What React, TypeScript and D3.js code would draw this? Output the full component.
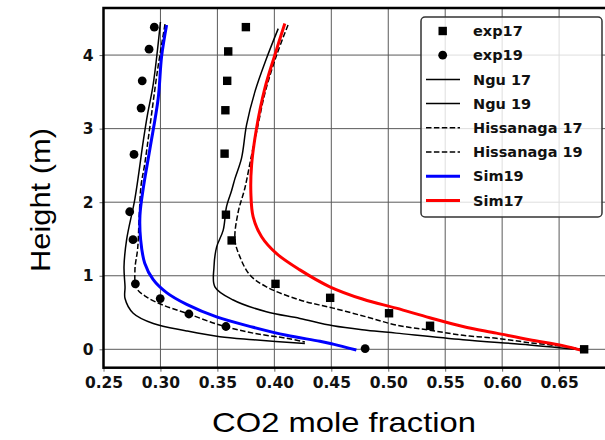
import React, { useEffect, useRef } from 'react';
import * as d3 from 'd3';

type Pt = [number, number];

const xTicks = [0.25, 0.3, 0.35, 0.4, 0.45, 0.5, 0.55, 0.6, 0.65];
const yTicks = [0, 1, 2, 3, 4];

// measured points (CO2 mole fraction, height m)
const exp17: Pt[] = [
  [0.375, 4.38], [0.3595, 4.05], [0.3586, 3.65], [0.357, 3.25], [0.3563, 2.66], [0.3575, 1.83],
  [0.3625, 1.48], [0.401, 0.89], [0.449, 0.7], [0.5007, 0.49], [0.5367, 0.32], [0.672, 0.0],
];
const exp19: Pt[] = [
  [0.2946, 4.38], [0.29, 4.08], [0.284, 3.65], [0.283, 3.28], [0.2768, 2.65], [0.273, 1.87],
  [0.2759, 1.49], [0.278, 0.89], [0.2998, 0.69], [0.325, 0.48], [0.3575, 0.31], [0.4797, 0.01],
];

const ngu19: Pt[] = [
  [0.3, 4.45], [0.2937, 3.61], [0.2885, 3.18], [0.285, 2.84], [0.2776, 2.05], [0.2703, 1.49],
  [0.268, 1.12], [0.2689, 0.85], [0.2689, 0.69], [0.2761, 0.49], [0.2937, 0.35], [0.323, 0.25],
  [0.3522, 0.17], [0.3814, 0.13], [0.4268, 0.08],
];
const hiss19: Pt[] = [
  [0.304, 4.42], [0.2975, 3.8], [0.2905, 3.0], [0.286, 2.5], [0.283, 2.23], [0.2814, 1.82],
  [0.28, 1.37], [0.2776, 1.08], [0.2791, 0.83], [0.2879, 0.71], [0.3025, 0.6], [0.323, 0.49],
  [0.3522, 0.33], [0.3814, 0.22], [0.4107, 0.15], [0.4268, 0.1],
];
const sim19: Pt[] = [
  [0.3054, 4.41], [0.301, 3.98], [0.298, 3.41], [0.2908, 2.73], [0.2849, 2.19], [0.282, 1.82],
  [0.2826, 1.49], [0.2862, 1.17], [0.2935, 0.95], [0.3054, 0.77], [0.323, 0.61], [0.3493, 0.44],
  [0.3814, 0.3], [0.4107, 0.19], [0.44, 0.11], [0.4516, 0.07], [0.472, -0.01],
];

const ngu17: Pt[] = [
  [0.4034, 4.36], [0.393, 3.95], [0.3829, 3.5], [0.3756, 3.05], [0.3712, 2.6], [0.3654, 2.32],
  [0.3625, 2.16], [0.358, 1.94], [0.3551, 1.62], [0.3493, 1.39], [0.347, 1.12], [0.3478, 0.85],
  [0.3639, 0.67], [0.393, 0.51], [0.4224, 0.42], [0.4516, 0.32], [0.481, 0.26], [0.507, 0.22],
  [0.5656, 0.13], [0.624, 0.06], [0.671, -0.01],
];
const hiss17: Pt[] = [
  [0.412, 4.41], [0.402, 4.0], [0.392, 3.5], [0.385, 3.0], [0.38, 2.64], [0.3741, 2.19],
  [0.3683, 1.87], [0.3654, 1.49], [0.3697, 1.26], [0.3785, 1.01], [0.393, 0.85], [0.4224, 0.67],
  [0.4516, 0.56], [0.481, 0.44], [0.507, 0.33], [0.5364, 0.26], [0.5656, 0.19], [0.5949, 0.15],
  [0.624, 0.09], [0.6533, 0.04], [0.671, 0.0],
];
const sim17: Pt[] = [
  [0.4092, 4.43], [0.4004, 4.0], [0.3917, 3.55], [0.3843, 3.0], [0.38, 2.5], [0.3794, 2.12],
  [0.3814, 1.8], [0.3888, 1.53], [0.402, 1.3], [0.4224, 1.08], [0.4487, 0.85], [0.478, 0.68],
  [0.507, 0.56], [0.5364, 0.43], [0.5656, 0.31], [0.5949, 0.22], [0.624, 0.13], [0.6533, 0.05],
  [0.671, -0.02],
];

const legendLabels = ['exp17', 'exp19', 'Ngu 17', 'Ngu 19', 'Hissanaga 17', 'Hissanaga 19', 'Sim19', 'Sim17'];

export default function App() {
  const svgRef = useRef<SVGSVGElement>(null);

  useEffect(() => {
    const svg = d3.select(svgRef.current);
    svg.selectAll('*').remove();

    const left = 103.5, right = 620, top = 8, bottom = 367.7;
    const x = d3.scaleLinear().domain([0.25, 0.25 + (right - left) / 1139]).range([left, right]);
    const y = d3.scaleLinear().domain([-0.25, 4.64]).range([bottom, top]);

    // grid
    svg.append('g').selectAll('line').data(xTicks).join('line')
      .attr('x1', d => x(d)).attr('x2', d => x(d)).attr('y1', top).attr('y2', bottom)
      .attr('stroke', '#5a5a5a').attr('stroke-width', 1);
    svg.append('g').selectAll('line').data(yTicks).join('line')
      .attr('x1', left).attr('x2', right).attr('y1', d => y(d)).attr('y2', d => y(d))
      .attr('stroke', '#5a5a5a').attr('stroke-width', 1);

    // axes
    const xAxis = svg.append('g').attr('transform', `translate(0,${bottom})`)
      .call(d3.axisBottom(x).tickValues(xTicks).tickFormat(d3.format('.2f')).tickSize(4).tickPadding(5));
    const yAxis = svg.append('g').attr('transform', `translate(${left},0)`)
      .call(d3.axisLeft(y).tickValues(yTicks).tickFormat(d3.format('d')).tickSize(4).tickPadding(6));
    [xAxis, yAxis].forEach(a => {
      a.select('.domain').remove();
      a.selectAll('.tick line').attr('stroke', '#666');
      a.selectAll('.tick text')
        .attr('fill', '#111')
        .style('font-family', '"DejaVu Sans", sans-serif')
        .style('font-weight', 'bold')
        .style('font-size', '15.5px');
    });

    const line = d3.line<Pt>().x(d => x(d[0])).y(d => y(d[1])).curve(d3.curveCatmullRom.alpha(0.5));

    const plot = svg.append('g');
    const series: { data: Pt[]; color: string; w: number; dash?: string }[] = [
      { data: ngu19, color: '#000', w: 1.5 },
      { data: ngu17, color: '#000', w: 1.5 },
      { data: hiss19, color: '#000', w: 1.5, dash: '5.5,2.4' },
      { data: hiss17, color: '#000', w: 1.5, dash: '5.5,2.4' },
      { data: sim19, color: '#0000ff', w: 3 },
      { data: sim17, color: '#ff0000', w: 3 },
    ];
    series.forEach(s => {
      plot.append('path').datum(s.data)
        .attr('d', line).attr('fill', 'none')
        .attr('stroke', s.color).attr('stroke-width', s.w)
        .attr('stroke-dasharray', s.dash ?? null);
    });

    plot.append('g').selectAll('rect').data(exp17).join('rect')
      .attr('x', d => x(d[0]) - 4.2).attr('y', d => y(d[1]) - 4.2)
      .attr('width', 8.4).attr('height', 8.4).attr('fill', '#000');
    plot.append('g').selectAll('circle').data(exp19).join('circle')
      .attr('cx', d => x(d[0])).attr('cy', d => y(d[1])).attr('r', 4.4).attr('fill', '#000');

    // spines
    svg.append('rect').attr('x', left).attr('y', top).attr('width', right - left).attr('height', bottom - top)
      .attr('fill', 'none').attr('stroke', '#000').attr('stroke-width', 2.5);

    // legend
    const lg = svg.append('g');
    lg.append('rect').attr('x', 421).attr('y', 17).attr('width', 181).attr('height', 200).attr('rx', 4)
      .attr('fill', '#fff').attr('fill-opacity', 0.8).attr('stroke', '#333').attr('stroke-width', 1.5);
    legendLabels.forEach((label, i) => {
      const cy = 31 + i * 24.2;
      const g = lg.append('g');
      if (i === 0) g.append('rect').attr('x', 438.5).attr('y', cy - 4.2).attr('width', 8.4).attr('height', 8.4).attr('fill', '#000');
      else if (i === 1) g.append('circle').attr('cx', 442.7).attr('cy', cy).attr('r', 4.4).attr('fill', '#000');
      else {
        const s = series[[1, 0, 3, 2, 4, 5][i - 2]];
        g.append('line').attr('x1', 426).attr('x2', 460).attr('y1', cy).attr('y2', cy)
          .attr('stroke', s.color).attr('stroke-width', s.w).attr('stroke-dasharray', s.dash ?? null);
      }
      g.append('text').attr('x', 473).attr('y', cy).attr('dy', '0.36em').text(label)
        .attr('fill', '#111')
        .style('font-family', '"DejaVu Sans", sans-serif').style('font-weight', 'bold').style('font-size', '14.5px');
    });

    // axis titles
    svg.append('text').attr('x', 344).attr('y', 432).attr('text-anchor', 'middle')
      .attr('textLength', 264).attr('lengthAdjust', 'spacingAndGlyphs')
      .style('font-family', '"Liberation Sans", Arial, sans-serif').style('font-size', '28px')
      .text('CO2 mole fraction');
    svg.append('text').attr('transform', 'translate(50,200) rotate(-90)').attr('text-anchor', 'middle')
      .attr('textLength', 144).attr('lengthAdjust', 'spacingAndGlyphs')
      .style('font-family', '"Liberation Sans", Arial, sans-serif').style('font-size', '28px')
      .text('Height (m)');
  }, []);

  return (
    <svg ref={svgRef} width={605} height={440}
      style={{ position: 'absolute', left: 0, top: 0, background: '#fff' }} />
  );
}
